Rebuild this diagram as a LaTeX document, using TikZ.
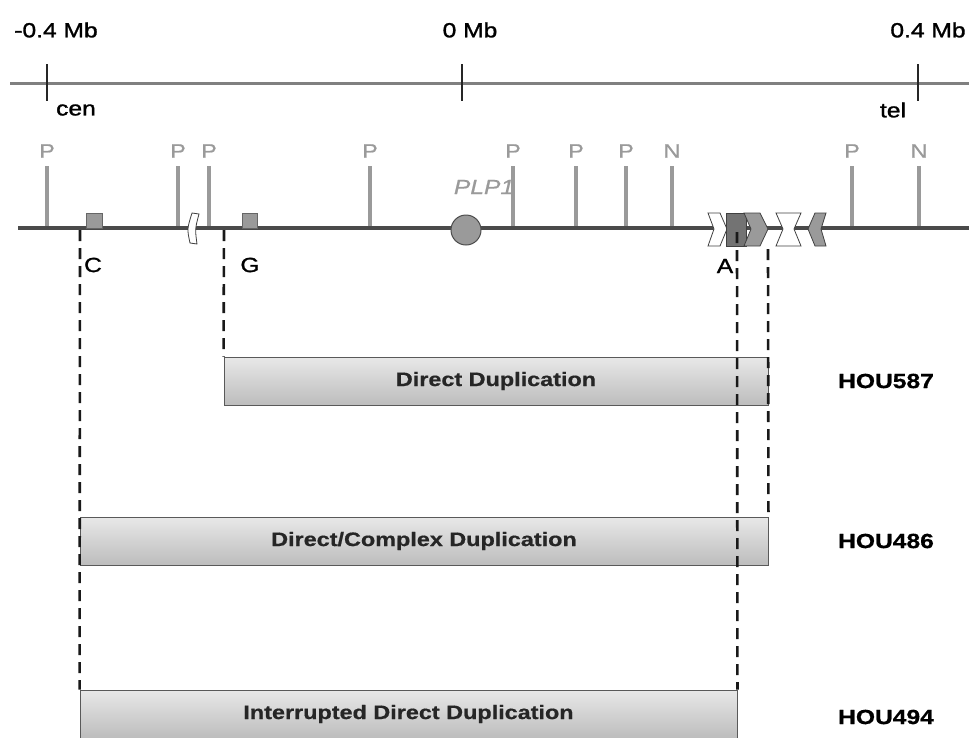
\documentclass[tikz,border=0pt]{standalone}
\usepackage{fontspec}
\setmainfont{Liberation Sans}[FakeBold=0.6]
\newfontfamily\heavyfont{Liberation Sans}[FakeBold=1.2]
\newcommand{\stx}[1]{\scalebox{1.2}[1]{#1}}
\definecolor{pgray}{HTML}{9A9A9A}
\definecolor{lgray}{HTML}{4A4A4A}
\begin{document}
\begin{tikzpicture}[x=1pt,y=-1pt,
 axlab/.style={font=\fontsize{20.5}{24}\selectfont\heavyfont, inner sep=0},
 mk/.style={font=\fontsize{19.5}{22}\selectfont, text=pgray, inner sep=0},
 site/.style={font=\fontsize{20.5}{24}\selectfont\heavyfont, inner sep=0},
 hou/.style={font=\fontsize{20.5}{24}\selectfont\bfseries, inner sep=0},
 bar/.style={draw=black!65, line width=0.9pt, top color=gray!18, bottom color=gray!52, minimum height=48pt, inner sep=0, font=\fontsize{19.5}{22}\selectfont\bfseries, text=black!85},
 bp/.style={black!90, line width=2.6pt, dash pattern=on 11pt off 7pt},
 pline/.style={pgray, line width=3.8pt},
 rep/.style={draw=black!75, line width=0.8pt},
]
\useasboundingbox (0,0) rectangle (969,737);
% top axis
\draw[line width=3pt, gray] (10,83) -- (969,83);
\foreach \x in {47,462,918} \draw[line width=1.8pt, black!85] (\x,64) -- (\x,101);
\node[axlab] (m04) at (56,30) {\stx{-0.4 Mb}};
\node[axlab] (m0) at (470,30) {\stx{0 Mb}};
\node[axlab] (p04) at (928,30) {\stx{0.4 Mb}};
\node[axlab] (cen) at (76,110) {\stx{cen}};
\node[axlab] (tel) at (893,110) {\stx{tel}};
% markers
\foreach \x/\t/\n in {47/P/k1,178/P/k2,209/P/k3,370/P/k4,513/P/k5,576/P/k6,626/P/k7,672/N/k8,852/P/k9,919/N/k10}{
  \node[mk] (\n) at (\x,151) {\stx{\t}};
  \draw[pline] (\x,166) -- (\x,228);
}
% gene line
\draw[line width=3.4pt, lgray] (18,228) -- (969,228);
\filldraw[fill=pgray, draw=black!60, line width=0.8pt] (86,213) rectangle (102,228);
\filldraw[fill=pgray, draw=black!60, line width=0.8pt] (242,213) rectangle (257,228);
\filldraw[rep, fill=white] (192,213) -- (199,214) .. controls (195,229) .. (197,244) -- (190,243) .. controls (187,229) .. (192,213) -- cycle;
\node[circle, fill=pgray, draw=black!70, line width=1pt, minimum size=30pt, inner sep=0] (plp) at (466,230) {};
\node[font=\fontsize{20.5}{24}\selectfont\itshape, text=pgray, inner sep=0] (plpl) at (484,187) {\stx{PLP1}};
% repeat cluster
\filldraw[rep, fill=white] (708,213) -- (720,213) -- (727,229) -- (720,246) -- (708,246) -- (714,229) -- cycle;
\filldraw[rep, fill=black!55] (726,213) rectangle (746,246);
\filldraw[rep, fill=pgray] (744,213) -- (760,213) -- (768,229) -- (760,246) -- (744,246) -- (751,229) -- cycle;
\filldraw[rep, fill=white] (776,213) -- (801,213) -- (794,229) -- (801,246) -- (776,246) -- (783,229) -- cycle;
\filldraw[rep, fill=pgray] (815,213) -- (826,213) -- (821,229) -- (826,246) -- (815,246) -- (808,229) -- cycle;
% breakpoint labels
\node[site] (lc) at (93,265) {\stx{C}};
\node[site] (lg) at (250,265) {\stx{G}};
\node[site] (la) at (725,266) {\stx{A}};
% bars
\node[bar, minimum width=544pt] (b587) at (496,381) {\stx{Direct Duplication}};
\node[bar, minimum width=688pt] (b486) at (424,541) {\stx{Direct/Complex Duplication}};
\node[bar, minimum width=657pt] (b494) at (408.5,714) {\stx{Interrupted Direct Duplication}};
\node[hou] (h587) at (886,381) {\stx{HOU587}};
\node[hou] (h486) at (886,541) {\stx{HOU486}};
\node[hou] (h494) at (886,717) {\stx{HOU494}};
% breakpoint dashed lines
\coordinate (cT) at (80,230);
\coordinate (gT) at (224,230);
\coordinate (aT) at (737,232);
\coordinate (eT) at (768,249);
\draw[bp] (cT) -- (b494.north west);
\draw[bp] (gT) -- (b587.north west);
\draw[bp] (aT) -- (b494.north east);
\draw[bp] (eT) -- (b486.north east);
\end{tikzpicture}
\end{document}
